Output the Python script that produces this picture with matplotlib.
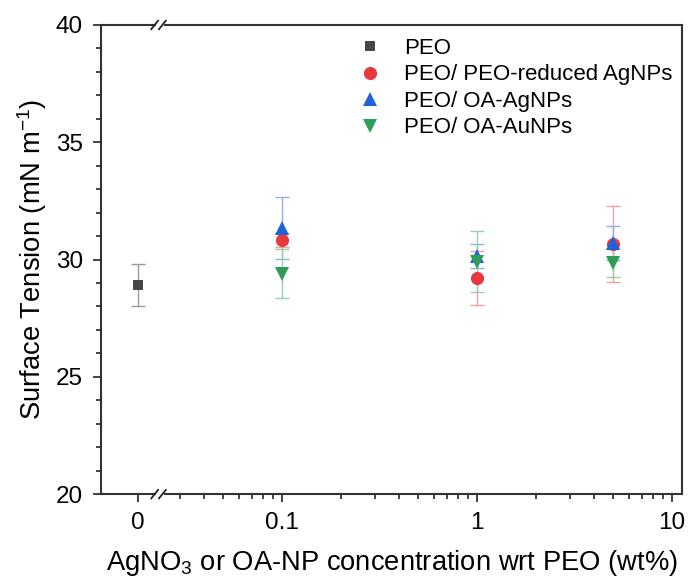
import numpy as np
import matplotlib
matplotlib.use('Agg')
import matplotlib.pyplot as plt
import matplotlib.transforms as mtransforms
from matplotlib.ticker import FixedLocator, FixedFormatter

plt.rcParams['font.family'] = ['Liberation Sans', 'DejaVu Sans']
plt.rcParams['mathtext.fontset'] = 'custom'
plt.rcParams['mathtext.rm'] = 'Liberation Sans'
plt.rcParams['mathtext.it'] = 'Liberation Sans'

# --- DATA ---
conc = [0, 0.1, 1, 5]               # wt%; 0 is drawn left of the axis break
peo_x = [0]
peo_y = [28.9]
peo_err = [0.9]

red_x = [0.1, 1, 5]
red_y = [30.85, 29.2, 30.65]
red_err = [0.3, 1.15, 1.62]

blue_x = [0.1, 1, 5]
blue_y = [31.35, 30.15, 30.7]
blue_err = [1.32, 0.5, 0.73]

green_x = [0.1, 1, 5]
green_y = [29.4, 29.9, 29.85]
green_err = [1.05, 1.3, 0.6]

x_ticklabels = ['0', '0.1', '1', '10']

# --- CONFIG ---
ZERO_POS = 0.0183    # where "0" sits on the log axis
BREAK_POS = 0.0237
XLIM = (0.0118, 11.25)


def xmap(vals):
    return [ZERO_POS if v == 0 else v for v in vals]


fig = plt.figure(figsize=(6.91, 5.8), dpi=100)
ax = fig.add_axes([0.146, 0.148, 0.841, 0.809])
ax.set_xscale('log')

series = [
    (peo_x, peo_y, peo_err, 's', '#474747', '#9a9a9a', 'PEO', 7.5),
    (red_x, red_y, red_err, 'o', '#e8393f', '#f0a0a3', 'PEO/ PEO-reduced AgNPs', 9.5),
    (blue_x, blue_y, blue_err, '^', '#1f63d9', '#8fb0e8', 'PEO/ OA-AgNPs', 9.5),
    (green_x, green_y, green_err, 'v', '#2e9d5a', '#98cfad', 'PEO/ OA-AuNPs', 9.5),
]
for xs, ys, es, mk, col, ecol, lab, ms in series:
    ax.errorbar(xmap(xs), ys, yerr=es, fmt='none', ecolor=ecol, elinewidth=1,
                capsize=5, capthick=1, zorder=2)
    ax.plot(xmap(xs), ys, linestyle='none', marker=mk, color=col, markersize=ms,
            markeredgewidth=0, label=lab, zorder=3)

ax.set_xlim(*XLIM)
ax.set_ylim(20, 40)

# ticks
ax.xaxis.set_major_locator(FixedLocator([ZERO_POS, 0.1, 1, 10]))
ax.xaxis.set_major_formatter(FixedFormatter(x_ticklabels))
minors = [m * d for d in (0.01, 0.1, 1) for m in range(2, 10)]
minors = [v for v in minors if v > BREAK_POS * 1.15]
ax.xaxis.set_minor_locator(FixedLocator(minors))
ax.xaxis.set_minor_formatter(FixedFormatter([''] * len(minors)))
ax.set_yticks([20, 25, 30, 35, 40])
ax.set_yticks(np.arange(20, 41, 1), minor=True)

ax.tick_params(which='both', direction='out', top=False, right=False,
               labelsize=17.5, width=1.2, color='#222222')
ax.tick_params(which='major', length=6, pad=7)
ax.tick_params(which='minor', length=3.5)
for s in ax.spines.values():
    s.set_linewidth(1.5)
    s.set_color('#333333')

ax.set_ylabel('Surface Tension (mN m$^{-1}$)', fontsize=19.7, labelpad=5)
ax.set_xlabel('AgNO$_3$ or OA-NP concentration wrt PEO (wt%)', fontsize=19.7,
              labelpad=10)

# axis break marks on top and bottom spines
trans = mtransforms.blended_transform_factory(ax.transData, ax.transAxes)
for yb in (0, 1):
    ax.plot([BREAK_POS * 0.955, BREAK_POS * 1.045], [yb, yb], color='white',
            lw=3, transform=trans, clip_on=False, zorder=5, solid_capstyle='butt')
    for off in (0.94, 1.03):
        xc = BREAK_POS * off
        ax.plot([xc * 0.96, xc * 1.04], [yb - 0.009, yb + 0.009], color='#222222',
                lw=1.3, transform=trans, clip_on=False, zorder=6)

ax.legend(loc='upper left', bbox_to_anchor=(0.395, 1.02), frameon=False,
          fontsize=16, handletextpad=0.7, labelspacing=0.25, borderaxespad=0.6,
          handlelength=1.6)

fig.savefig('out.png', dpi=100)
